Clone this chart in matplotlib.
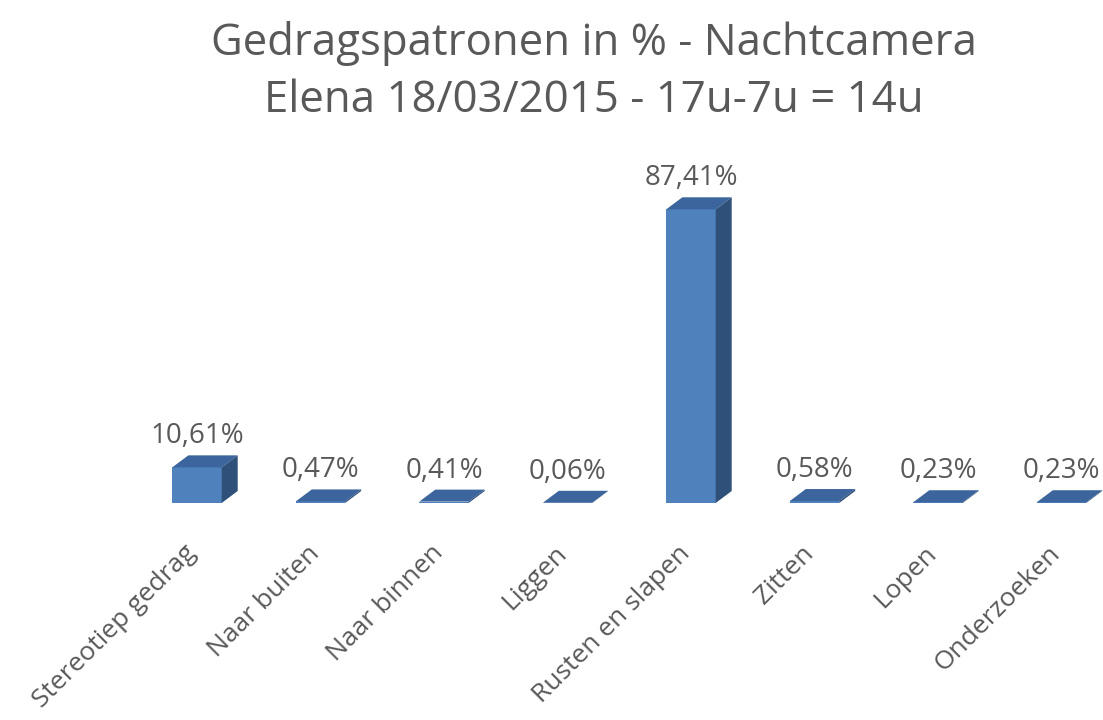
import numpy as np
import matplotlib
matplotlib.use('Agg')
import matplotlib.pyplot as plt
from matplotlib.patches import Polygon

categories = ['Stereotiep gedrag', 'Naar buiten', 'Naar binnen', 'Liggen',
              'Rusten en slapen', 'Zitten', 'Lopen', 'Onderzoeken']
values = [10.61, 0.47, 0.41, 0.06, 87.41, 0.58, 0.23, 0.23]
labels = ['10,61%', '0,47%', '0,41%', '0,06%', '87,41%', '0,58%', '0,23%', '0,23%']

title1 = 'Gedragspatronen in % - Nachtcamera'
title2 = 'Elena 18/03/2015 - 17u-7u = 14u'

front = '#4f81bd'
top_c = '#3b659c'
side_c = '#2f5079'
grey = '#595959'

plt.rcParams['font.family'] = ['Open Sans', 'DejaVu Sans']

W, H = 1103, 720
fig = plt.figure(figsize=(W / 100, H / 100), dpi=100)

# axes placed in pixels: category spacing ~123.5 px, base at y=503
x_lo, x_hi = -0.4, 7.2
px_per_cat = 123.5
left_px = 197 + x_lo * px_per_cat
right_px = 197 + x_hi * px_per_cat
base_px = 503
px_per_unit = 3.36
y_hi = 100
ax = fig.add_axes([left_px / W, (H - base_px) / H,
                   (right_px - left_px) / W, y_hi * px_per_unit / H])
ax.set_xlim(x_lo, x_hi)
ax.set_ylim(0, y_hi)
ax.axis('off')

bw = 0.4
dx = 16 / px_per_cat
dy = 12 / px_per_unit

x = np.arange(len(values))
ax.bar(x, values, width=bw, color=front, zorder=3, clip_on=False)
for xi, v, lab in zip(x, values, labels):
    x0, x1 = xi - bw / 2, xi + bw / 2
    # fake 3d: top and side faces
    ax.add_patch(Polygon([(x0, v), (x1, v), (x1 + dx, v + dy), (x0 + dx, v + dy)],
                         closed=True, facecolor=top_c, edgecolor='none', zorder=3,
                         clip_on=False))
    ax.add_patch(Polygon([(x1, 0), (x1 + dx, dy), (x1 + dx, v + dy), (x1, v)],
                         closed=True, facecolor=side_c, edgecolor='none', zorder=3,
                         clip_on=False))
    ax.text(xi, v + dy + 3.6, lab, ha='center', va='baseline', fontsize=20,
            color=grey, clip_on=False)

for xi, cat in zip(x, categories):
    ax.text(xi - 0.11, -11.2, cat, rotation=45, ha='right', va='top',
            rotation_mode='anchor', fontsize=19, color=grey, clip_on=False)

fig.text(594 / W, 1 - 55 / H, title1, ha='center', va='baseline', fontsize=31.5, color=grey)
fig.text(594 / W, 1 - 112 / H, title2, ha='center', va='baseline', fontsize=31.5, color=grey)

fig.savefig('out.png', dpi=100)
